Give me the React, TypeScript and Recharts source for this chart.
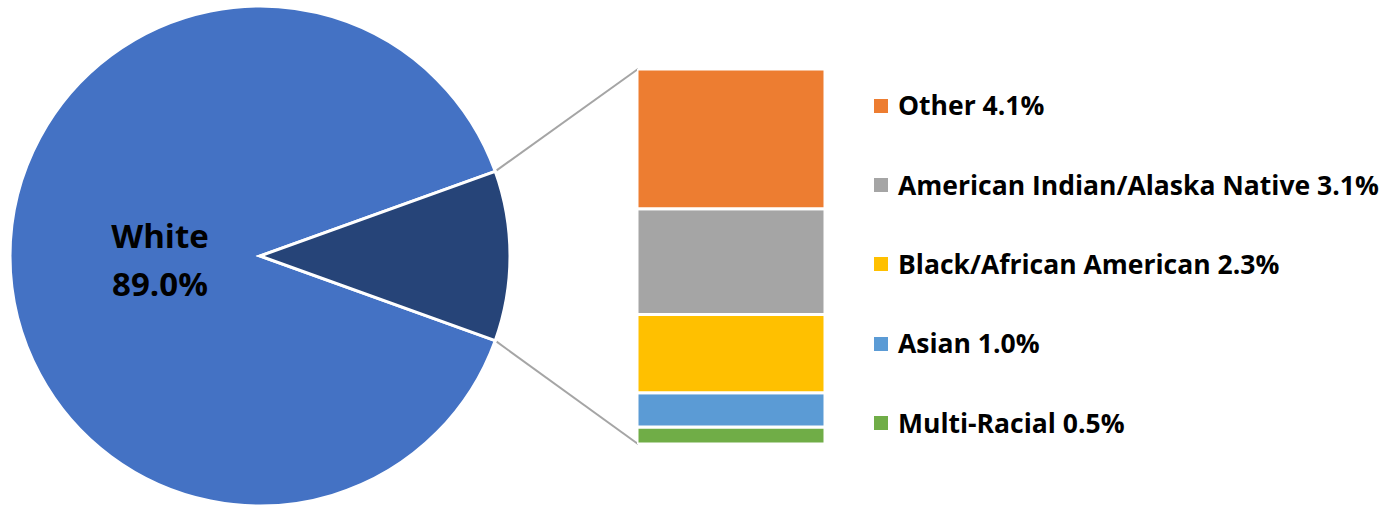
import { PieChart, Pie, Cell, BarChart, Bar, XAxis, YAxis } from 'recharts';

const pieNames = ['White', 'Other races'];
const pieValues = [89.0, 11.0];
const pieColors = ['#4472C4', '#264478'];

// bottom -> top in the stacked bar
const barNames = ['Multi-Racial', 'Asian', 'Black/African American', 'American Indian/Alaska Native', 'Other'];
const barValues = [0.5, 1.0, 2.3, 3.1, 4.1];
const barColors = ['#70AD47', '#5B9BD5', '#FFC000', '#A5A5A5', '#ED7D31'];

const FONT = '"Open Sans", Lato, sans-serif';

const PIE = { cx: 260, cy: 256, r: 250 };
const BAR = { left: 637, top: 69, width: 188, height: 375 };

const pieData = pieNames.map((name, i) => ({ name, value: pieValues[i] }));
const barRow = [Object.fromEntries(barNames.map((n, i) => [n, barValues[i]]))];
const total = pieValues.reduce((a, b) => a + b, 0);
const half = (pieValues[1] / total) * 180;

const renderLabel = (p: any) => {
  if (p.index !== 0) return null;
  const rad = (p.midAngle * Math.PI) / 180;
  const x = p.cx + p.outerRadius * 0.4 * Math.cos(rad);
  const y = p.cy - p.outerRadius * 0.4 * Math.sin(rad);
  return (
    <text x={x} y={y} textAnchor="middle" fill="#000" fontFamily={FONT} fontWeight={700} fontSize={33}>
      <tspan x={x} dy={-8}>{p.name}</tspan>
      <tspan x={x} dy={48}>{p.value.toFixed(1)}%</tspan>
    </text>
  );
};

export default function App() {
  const a = (half * Math.PI) / 180;
  const ex = PIE.cx + PIE.r * Math.cos(a);
  const eyTop = PIE.cy - PIE.r * Math.sin(a);
  const eyBot = PIE.cy + PIE.r * Math.sin(a);
  const legend = [...barNames].reverse().map((n) => {
    const i = barNames.indexOf(n);
    return { name: n, value: barValues[i], color: barColors[i] };
  });

  return (
    <div style={{ position: 'absolute', left: 0, top: 0, width: 1385, height: 507, background: '#fff' }}>
      <svg width={1385} height={507} style={{ position: 'absolute', left: 0, top: 0 }}>
        <line x1={ex} y1={eyTop} x2={BAR.left + 1} y2={BAR.top} stroke="#A5A5A5" strokeWidth={2} />
        <line x1={ex} y1={eyBot} x2={BAR.left + 1} y2={BAR.top + BAR.height} stroke="#A5A5A5" strokeWidth={2} />
      </svg>
      <div style={{ position: 'absolute', left: 0, top: 0 }}>
        <PieChart width={520} height={507} margin={{ top: 0, right: 0, bottom: 0, left: 0 }}>
          <Pie
            data={pieData}
            dataKey="value"
            nameKey="name"
            cx={PIE.cx}
            cy={PIE.cy}
            outerRadius={PIE.r}
            startAngle={half}
            endAngle={half + 360}
            stroke="#fff"
            strokeWidth={3}
            label={renderLabel}
            labelLine={false}
            isAnimationActive={false}
          >
            {pieData.map((_, i) => (
              <Cell key={i} fill={pieColors[i]} />
            ))}
          </Pie>
        </PieChart>
      </div>
      <div style={{ position: 'absolute', left: BAR.left, top: BAR.top }}>
        <BarChart
          width={BAR.width}
          height={BAR.height}
          data={barRow}
          margin={{ top: 0, right: 0, bottom: 0, left: 0 }}
          barCategoryGap={0}
        >
          <XAxis hide type="category" />
          <YAxis hide domain={[0, pieValues[1]]} />
          {barNames.map((n, i) => (
            <Bar key={n} dataKey={n} stackId="s" fill={barColors[i]} stroke="#fff" strokeWidth={3} isAnimationActive={false} />
          ))}
        </BarChart>
      </div>
      <div style={{ position: 'absolute', left: 874, top: 66, fontFamily: FONT, fontWeight: 700, fontSize: 26.5, color: '#000' }}>
        {legend.map((d) => (
          <div key={d.name} style={{ display: 'flex', alignItems: 'center', height: 79.3, lineHeight: 1 }}>
            <span style={{ display: 'inline-block', width: 14, height: 14, background: d.color, marginRight: 10 }} />
            <span style={{ whiteSpace: 'nowrap' }}>{d.name} {d.value.toFixed(1)}%</span>
          </div>
        ))}
      </div>
    </div>
  );
}
